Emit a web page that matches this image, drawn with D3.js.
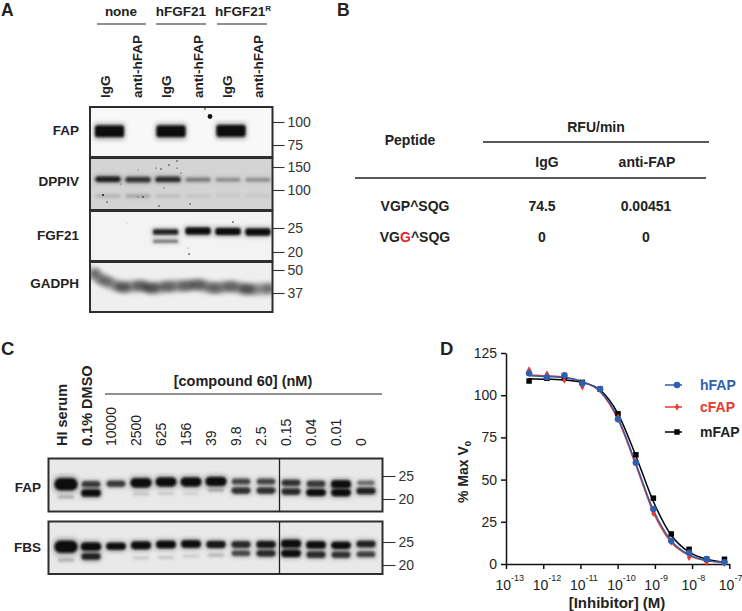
<!DOCTYPE html>
<html><head><meta charset="utf-8">
<script src="https://cdn.jsdelivr.net/npm/d3@7"></script>
<style>
html,body{margin:0;padding:0;background:#fff}
svg{display:block}
text{font-family:"Liberation Sans",Arial,sans-serif}
</style></head><body><svg id="c" width="742" height="611"></svg>
<script>
// ---------- Panel A data ----------
const conditionsA = ["none", "hFGF21", "hFGF21"];
const lanesA = ["IgG", "anti-hFAP", "IgG", "anti-hFAP", "IgG", "anti-hFAP"];
const blotNamesA = ["FAP", "DPPIV", "FGF21", "GADPH"];
const fapTicksA = [100, 75];
const dppivTicksA = [150, 100];
const fgfTicksA = [25, 20];
const gadphTicksA = [50, 37];
// band = [lane, apparent kDa, amount]
const fapBandsA = [[0.05, 89, .9], [2.1, 89, .9], [4.1, 89.5, .9]];
const dppivBandsA = [
  [0, 121, .42], [1, 120, .36], [2, 120.5, .38], [3, 120, .17], [4, 120, .12], [5, 120, .12],
  [0, 90, .05], [1, 90, .07], [2, 90, .04], [3, 90, .03], [4, 90.5, .02], [5, 90.5, .02]
];
const fgfBandsA = [[1.92, 24.1, .42], [1.92, 22.1, .2], [3, 24.3, .62], [4, 24.2, .62], [5, 24.1, .62]];
const gadphPos = [0, .07, .17, .27, .33, .42, .52, .59, .68, .77, .86, 1];
const gadphKDa = [48.5, 43.5, 40, 40.7, 39.5, 40.3, 40.7, 41.2, 39.5, 40.3, 39, 39.2];
const gadphDark = [.35, .3, .5, .45, .55, .4, .4, .45, .35, .4, .55, .3];
const specksA = [[205, 109, .8], [210, 116.5, 2.4], [103, 195, 1], [107, 202, .7], [143, 197, .8], [138, 197, .5], [156, 168, .6], [161, 169, .7], [169, 165, .7], [177, 161, .7], [177, 168, .6], [181, 173, .5], [164, 188, .5], [190, 204, .7], [159, 206, .7], [121, 184, .5], [138, 170, .4], [233, 222, .8], [189, 254, .8], [188, 248, .4], [127, 223, .3]];

// ---------- Panel B data ----------
const tableHead = ["IgG", "anti-FAP"];
const peptide1 = "VGP^SQG";
const row1 = ["74.5", "0.00451"];
const row2 = ["0", "0"];

// ---------- Panel C data ----------
const lanesC = ["HI serum", "0.1% DMSO", "10000", "2500", "625", "156", "39", "9.8", "2.5", "0.15", "0.04", "0.01", "0"];
const fapBandsC = [
  [0, 23.1, 1], [0, 20.4, .09], [1, 23.1, .36], [1, 21.2, .5], [2, 23.2, .36], [3, 23.4, .72], [3, 21.0, .06],
  [4, 23.6, .68], [4, 21.1, .05], [5, 23.6, .68], [5, 21.1, .04], [6, 23.7, .7], [6, 21.8, .09],
  [7, 23.7, .33], [7, 21.7, .38], [8, 23.7, .33], [8, 21.7, .38], [9, 23.4, .38], [9, 21.5, .4],
  [10, 23.2, .36], [10, 21.3, .48], [11, 23.1, .55], [11, 21.3, .5], [12, 23.4, .22], [12, 21.6, .42]
];
const fbsBandsC = [
  [0, 23.9, 1], [0, 21.0, .09], [1, 23.9, .62], [1, 21.7, .42], [2, 24.0, .48], [3, 24.2, .55], [3, 21.4, .05],
  [4, 24.4, .52], [4, 21.5, .05], [5, 24.5, .52], [5, 21.8, .05], [6, 24.4, .45], [6, 22.0, .08],
  [7, 24.4, .4], [7, 22.4, .32], [8, 24.4, .45], [8, 22.4, .4], [9, 24.6, .58], [9, 22.4, .5],
  [10, 24.3, .5], [10, 22.1, .4], [11, 24.2, .48], [11, 22.1, .38], [12, 24.5, .42], [12, 22.2, .34]
];
const tickKDaC = [25, 20];

// ---------- Panel D data ----------
const logConc = [-12.38, -11.90, -11.43, -10.95, -10.47, -9.99, -9.51, -9.04, -8.56, -8.08, -7.61, -7.13];
const hFAP = [113, 110.6, 111.8, 107, 103.6, 85.8, 60, 32.6, 13.8, 6.7, 3, 1];
const cFAP = [115, 112.5, 109, 105, 103.5, 87, 60.7, 30, 13, 4, 1, .5];
const mFAP = [108.4, 110, 110, 107.6, 103.6, 89, 64.7, 39, 17.8, 8.7, 2.8, 2.8];
const hFit = [111.5, 111, 110.3, 108, 102.5, 86.5, 59.5, 32, 13.8, 5.5, 2, 1];
const cFit = [112, 111.5, 110.6, 108, 102, 85.5, 58.5, 30.5, 12.8, 5, 2, .8];
const mFit = [109.8, 109.5, 109, 107.5, 103, 89, 64, 37, 17, 7, 2.8, 1];
const yTicksD = [0, 25, 50, 75, 100, 125];
const xTicksD = [-13, -12, -11, -10, -9, -8, -7];

// ---------- drawing ----------
const svg = d3.select("#c");
const defs = svg.append("defs");
[["b12", 1.1], ["b20", 2.2], ["b25", 2.6]].forEach(([id, s]) =>
  defs.append("filter").attr("id", id).attr("x", "-30%").attr("y", "-80%").attr("width", "160%").attr("height", "260%")
    .append("feGaussianBlur").attr("stdDeviation", s));

function label(t, x, y, o = {}) {
  return svg.append("text").attr("x", x).attr("y", y).attr("font-size", o.size || 14)
    .attr("font-weight", o.bold ? "bold" : "normal").attr("text-anchor", o.anchor || "start")
    .attr("fill", o.fill || "#222").text(t);
}
function vlabel(t, x, y, o = {}) {
  return svg.append("text").attr("transform", `translate(${x},${y}) rotate(-90)`)
    .attr("font-size", o.size || 14).attr("font-weight", o.bold ? "bold" : "normal")
    .attr("fill", "#222").attr("text-anchor", o.anchor || "start").text(t);
}
function hline(x1, x2, y, w = 1.2, c = "#222") {
  svg.append("line").attr("x1", x1).attr("x2", x2).attr("y1", y).attr("y2", y).attr("stroke", c).attr("stroke-width", w);
}
// one blot panel: background, bands, frame, marker axis
function blot(o) {
  const clipId = "clip" + o.id;
  const rxF = o.rxF || .5;
  defs.append("clipPath").attr("id", clipId).append("rect")
    .attr("x", o.x0).attr("y", o.y0).attr("width", o.x1 - o.x0).attr("height", o.y1 - o.y0);
  const g = svg.append("g");
  g.append("rect").attr("x", o.x0).attr("y", o.y0).attr("width", o.x1 - o.x0).attr("height", o.y1 - o.y0).attr("fill", o.bg);
  const clipG = g.append("g").attr("clip-path", `url(#${clipId})`);
  const halo = clipG.append("g").attr("filter", "url(#b20)");
  const core = clipG.append("g").attr("filter", "url(#b12)");
  const h = d3.scaleLinear().domain([0, 1]).range(o.hRange);
  const op = d3.scaleLinear().domain([0, .48]).range([0, 1]).clamp(true);
  (o.bands || []).forEach(([lane, kda, amt]) => {
    const w = o.width(amt), hh = h(amt);
    halo.append("rect").attr("x", o.xs(lane) - w / 2).attr("y", o.ys(kda) - hh * .7)
      .attr("width", w).attr("height", hh * 1.4).attr("rx", hh * rxF).attr("fill", "#222").attr("opacity", op(amt) * .4);
    core.append("rect").attr("x", o.xs(lane) - w / 2 + 1).attr("y", o.ys(kda) - hh / 2)
      .attr("width", w - 2).attr("height", hh).attr("rx", hh * rxF).attr("fill", "#0b0b0b").attr("opacity", op(amt));
  });
  if (o.extra) o.extra(clipG);
  g.append("rect").attr("x", o.x0).attr("y", o.y0).attr("width", o.x1 - o.x0).attr("height", o.y1 - o.y0)
    .attr("fill", "none").attr("stroke", "#2e2e2e").attr("stroke-width", 2);
  const ax = svg.append("g").attr("transform", `translate(${o.x1},0)`)
    .call(d3.axisRight(o.ys).tickValues(o.ticks).tickSize(o.tick).tickPadding(3).tickFormat(d3.format("d")));
  ax.select(".domain").remove();
  ax.selectAll("line").attr("stroke", "#333").attr("stroke-width", 1.1);
  ax.selectAll("text").attr("font-size", 14).attr("font-family", '"Liberation Sans",Arial,sans-serif').attr("fill", "#333");
}

// ----- A -----
label("A", 1, 16, { size: 17.5, bold: true });
const xA = d3.scaleLinear().domain([0, 5]).range([108, 258]);
label(conditionsA[0], 121, 16, { size: 13.5, bold: true, anchor: "middle" });
label(conditionsA[1], 181, 16, { size: 13.5, bold: true, anchor: "middle" });
const sup = label(conditionsA[2], 243, 16, { size: 13.5, bold: true, anchor: "middle" });
sup.append("tspan").attr("font-size", 8).attr("dy", -5).text("R");
hline(97, 146, 24); hline(156, 206, 24); hline(217, 267, 24);
const labXA = [110, 142, 171, 203, 232, 263];
lanesA.forEach((t, i) => vlabel(t, labXA[i], 98, { size: 13.5, bold: true }));
const nameY = [135, 186, 240, 288];
blotNamesA.forEach((t, i) => label(t, 79, nameY[i], { size: 13.5, bold: true, anchor: "end" }));

blot({ id: "a1", x0: 90, x1: 272.5, y0: 107, y1: 157, bg: "#f8f8f8", bands: fapBandsA, xs: xA,
  ys: d3.scaleLog().domain([100, 75]).range([122, 145]), ticks: fapTicksA, tick: 12,
  hRange: [3, 12.5], width: () => 31, rxF: .22 });
blot({ id: "a2", x0: 90, x1: 272.5, y0: 158, y1: 210, bg: "#d4d4d4", bands: dppivBandsA, xs: xA,
  ys: d3.scaleLog().domain([150, 100]).range([167, 190]), ticks: dppivTicksA, tick: 12,
  hRange: [3.5, 8], width: () => 27 });
blot({ id: "a3", x0: 90, x1: 272.5, y0: 211, y1: 261, bg: "#f3f3f3", bands: fgfBandsA, xs: xA,
  ys: d3.scaleLog().domain([25, 20]).range([228, 252]), ticks: fgfTicksA, tick: 12,
  hRange: [2, 10], width: () => 27, rxF: .3 });
const yG = d3.scaleLog().domain([50, 37]).range([270, 293]);
const xG = d3.scaleLinear().domain([0, 1]).range([92, 272]);
blot({ id: "a4", x0: 90, x1: 272.5, y0: 262, y1: 312, bg: "#efefef", xs: xA, ys: yG, ticks: gadphTicksA, tick: 12,
  hRange: [2, 8], width: () => 20,
  extra: g => {
    const l = d3.line().x((d, i) => xG(gadphPos[i])).y(d => yG(d)).curve(d3.curveCatmullRom);
    g.append("path").attr("d", l(gadphKDa)).attr("fill", "none").attr("stroke", "#444").attr("stroke-width", 11)
      .attr("opacity", .62).attr("filter", "url(#b25)");
    const blobs = g.append("g").attr("filter", "url(#b20)");
    gadphKDa.forEach((d, i) => blobs.append("ellipse").attr("cx", xG(gadphPos[i])).attr("cy", yG(d))
      .attr("rx", 8).attr("ry", 4.5).attr("fill", "#222").attr("opacity", gadphDark[i]));
  } });
svg.append("g").selectAll("circle").data(specksA).join("circle")
  .attr("cx", d => d[0]).attr("cy", d => d[1]).attr("r", d => d[2]).attr("fill", "#111");

// ----- B -----
label("B", 337, 16, { size: 17.5, bold: true });
label("Peptide", 410, 145, { bold: true, anchor: "middle" });
label("RFU/min", 596, 132, { bold: true, anchor: "middle" });
hline(483, 709, 142, 1.3); hline(355, 706, 178, 1.5);
label(tableHead[0], 547, 167, { bold: true, anchor: "middle" });
label(tableHead[1], 647, 167, { bold: true, anchor: "middle" });
label(peptide1, 415, 211, { bold: true, anchor: "middle" });
label(row1[0], 542, 211, { bold: true, anchor: "middle" });
label(row1[1], 646, 211, { bold: true, anchor: "middle" });
const pep2 = label("VG", 415, 242, { bold: true, anchor: "middle" });
pep2.append("tspan").attr("fill", "#e8262d").text("G");
pep2.append("tspan").text("^SQG");
label(row2[0], 542, 242, { bold: true, anchor: "middle" });
label(row2[1], 646, 242, { bold: true, anchor: "middle" });

// ----- C -----
label("C", 1, 355, { size: 18.5, bold: true });
const xC = d3.scaleLinear().domain([0, 12]).range([66, 366]);
label("[compound 60] (nM)", 243, 386, { size: 14.5, bold: true, anchor: "middle" });
hline(105, 382, 394, 1.2);
lanesC.forEach((t, i) => vlabel(t, xC(i) + (i < 2 ? .5 : 0), 446, { size: i < 2 ? 14.5 : 14, bold: i < 2 }));
label("FAP", 41, 492, { size: 13.5, bold: true, anchor: "end" });
label("FBS", 41, 552, { size: 13.5, bold: true, anchor: "end" });
const widthC = d3.scaleLinear().domain([0, 1]).range([18, 25]);
blot({ id: "c1", x0: 48.5, x1: 382.5, y0: 458.5, y1: 511.5, bg: "#e9e9e9", bands: fapBandsC, xs: xC,
  ys: d3.scaleLog().domain([25, 20]).range([476, 499]), ticks: tickKDaC, tick: 13,
  hRange: [2.5, 12], width: widthC });
blot({ id: "c2", x0: 48.5, x1: 382.5, y0: 521.5, y1: 574, bg: "#e9e9e9", bands: fbsBandsC, xs: xC,
  ys: d3.scaleLog().domain([25, 20]).range([542, 565]), ticks: tickKDaC, tick: 13,
  hRange: [2.5, 12], width: widthC });
[[458.5, 511.5], [521.5, 574]].forEach(([a, b]) =>
  svg.append("line").attr("x1", 279.5).attr("x2", 279.5).attr("y1", a).attr("y2", b).attr("stroke", "#222").attr("stroke-width", 1.3));

// ----- D -----
label("D", 440, 355, { size: 18.5, bold: true });
const xD = d3.scaleLinear().domain([-13, -7]).range([506, 729.3]);
const yD = d3.scaleLinear().domain([0, 125]).range([564, 353]);
const yAx = svg.append("g").attr("transform", "translate(506,0)")
  .call(d3.axisLeft(yD).tickValues(yTicksD).tickSize(5).tickPadding(4).tickSizeOuter(0));
const xAx = svg.append("g").attr("transform", "translate(0,564)")
  .call(d3.axisBottom(xD).tickValues(xTicksD).tickSize(5).tickPadding(3).tickSizeOuter(0).tickFormat(() => ""));
[yAx, xAx].forEach(a => {
  a.selectAll("path,line").attr("stroke", "#111").attr("stroke-width", 1.5);
  a.selectAll("text").attr("font-size", 14).attr("font-family", '"Liberation Sans",Arial,sans-serif').attr("fill", "#222");
});
xAx.selectAll("g.tick").each(function (d) {
  const t = d3.select(this).select("text").attr("x", -11).attr("y", 26).attr("dy", 0).attr("font-size", 14)
    .attr("text-anchor", "start").attr("fill", "#222");
  t.append("tspan").text("10");
  t.append("tspan").attr("font-size", 9).attr("dy", -9.5).text(d);
});
vlabel("% Max V", 468, 503, { bold: true }).append("tspan").attr("font-size", 9.5).attr("dy", 3).text("0");
label("[Inhibitor] (M)", 617, 608, { size: 15, bold: true, anchor: "middle" });

const seriesD = [
  { name: "mFAP", pts: mFAP, fit: mFit, c: "#000000", sym: d3.symbolSquare, sz: 30, ly: 432, lc: "#222" },
  { name: "cFAP", pts: cFAP, fit: cFit, c: "#e8392e", sym: d3.symbolDiamond, sz: 16, ly: 407, lc: "#e8392e" },
  { name: "hFAP", pts: hFAP, fit: hFit, c: "#2f5fae", sym: d3.symbolCircle, sz: 34, ly: 385, lc: "#2f5fae" }
];
const curveD = d3.line().x((d, i) => xD(logConc[i])).y(d => yD(d)).curve(d3.curveMonotoneX);
seriesD.forEach(s => {
  svg.append("path").attr("d", curveD(s.fit)).attr("fill", "none").attr("stroke", s.c).attr("stroke-width", 1.5);
});
seriesD.forEach(s => {
  svg.append("g").selectAll("path").data(s.pts).join("path")
    .attr("transform", (d, i) => `translate(${xD(logConc[i])},${yD(d)})`)
    .attr("d", d3.symbol().type(s.sym).size(s.sz)).attr("fill", s.c);
  svg.append("line").attr("x1", 665).attr("x2", 682).attr("y1", s.ly).attr("y2", s.ly).attr("stroke", s.c).attr("stroke-width", 1.5);
  svg.append("path").attr("transform", `translate(677,${s.ly})`).attr("d", d3.symbol().type(s.sym).size(s.sz)).attr("fill", s.c);
  label(s.name, 700, s.ly + 5, { size: 14, bold: true, fill: s.lc });
});
</script></body></html>
